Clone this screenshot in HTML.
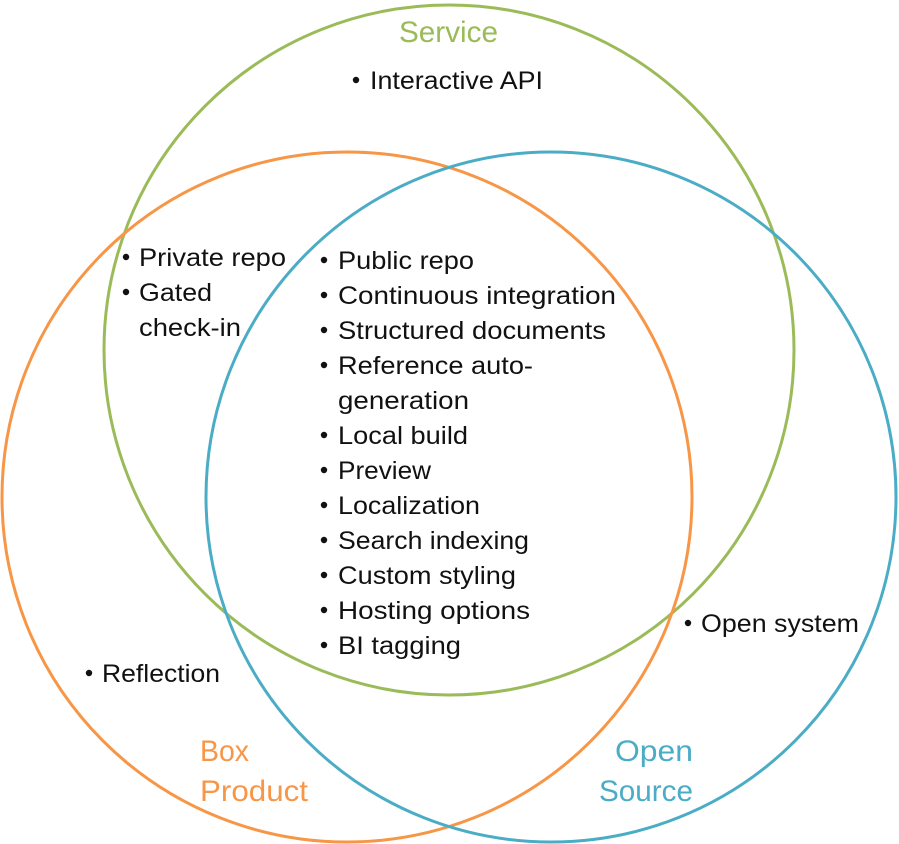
<!DOCTYPE html>
<html><head><meta charset="utf-8"><style>html,body{margin:0;padding:0;background:#fff}svg{display:block}</style></head>
<body>
<svg width="899" height="844" viewBox="0 0 899 844" xmlns="http://www.w3.org/2000/svg" font-family="Liberation Sans, sans-serif">
<g fill="none" stroke-width="3">
<circle cx="449" cy="350" r="345" stroke="#9BBB59"/>
<circle cx="347" cy="497" r="345" stroke="#F79646"/>
<circle cx="551" cy="497" r="345" stroke="#4BACC6"/>
</g>
<g font-size="30" lengthAdjust="spacingAndGlyphs">
<text x="399" y="42" fill="#9BBB59" textLength="99" lengthAdjust="spacingAndGlyphs">Service</text>
<text x="200" y="761" fill="#F79646" textLength="49" lengthAdjust="spacingAndGlyphs">Box</text>
<text x="200" y="801" fill="#F79646" textLength="108" lengthAdjust="spacingAndGlyphs">Product</text>
<text x="615" y="761" fill="#4BACC6" textLength="78" lengthAdjust="spacingAndGlyphs">Open</text>
<text x="599" y="801" fill="#4BACC6" textLength="94" lengthAdjust="spacingAndGlyphs">Source</text>
</g>
<g font-size="25" fill="#111">
<g fill="#111">
<circle cx="356" cy="80" r="3.2"/>
<circle cx="126" cy="257" r="3.2"/><circle cx="126" cy="292" r="3.2"/>
<circle cx="324" cy="260" r="3.2"/><circle cx="324" cy="295" r="3.2"/><circle cx="324" cy="330" r="3.2"/><circle cx="324" cy="365" r="3.2"/>
<circle cx="324" cy="435" r="3.2"/><circle cx="324" cy="470" r="3.2"/><circle cx="324" cy="505" r="3.2"/><circle cx="324" cy="540" r="3.2"/><circle cx="324" cy="575" r="3.2"/><circle cx="324" cy="610" r="3.2"/><circle cx="324" cy="645" r="3.2"/>
<circle cx="688" cy="623" r="3.2"/><circle cx="89" cy="673" r="3.2"/>
</g>
<text x="370" y="89" textLength="173" lengthAdjust="spacingAndGlyphs">Interactive API</text>
<text x="139" y="266" textLength="147" lengthAdjust="spacingAndGlyphs">Private repo</text>
<text x="139" y="301" textLength="73" lengthAdjust="spacingAndGlyphs">Gated</text>
<text x="139" y="336" textLength="102" lengthAdjust="spacingAndGlyphs">check-in</text>
<text x="338" y="269" textLength="136" lengthAdjust="spacingAndGlyphs">Public repo</text>
<text x="338" y="304" textLength="278" lengthAdjust="spacingAndGlyphs">Continuous integration</text>
<text x="338" y="339" textLength="268" lengthAdjust="spacingAndGlyphs">Structured documents</text>
<text x="338" y="374" textLength="195" lengthAdjust="spacingAndGlyphs">Reference auto-</text>
<text x="338" y="409" textLength="131" lengthAdjust="spacingAndGlyphs">generation</text>
<text x="338" y="444" textLength="130" lengthAdjust="spacingAndGlyphs">Local build</text>
<text x="338" y="479" textLength="93" lengthAdjust="spacingAndGlyphs">Preview</text>
<text x="338" y="514" textLength="142" lengthAdjust="spacingAndGlyphs">Localization</text>
<text x="338" y="549" textLength="191" lengthAdjust="spacingAndGlyphs">Search indexing</text>
<text x="338" y="584" textLength="178" lengthAdjust="spacingAndGlyphs">Custom styling</text>
<text x="338" y="619" textLength="192" lengthAdjust="spacingAndGlyphs">Hosting options</text>
<text x="338" y="654" textLength="123" lengthAdjust="spacingAndGlyphs">BI tagging</text>
<text x="701" y="632" textLength="158" lengthAdjust="spacingAndGlyphs">Open system</text>
<text x="102" y="682" textLength="118" lengthAdjust="spacingAndGlyphs">Reflection</text>
</g>
</svg>
</body></html>
